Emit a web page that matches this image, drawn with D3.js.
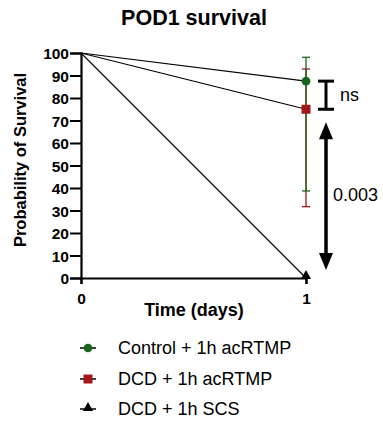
<!DOCTYPE html>
<html lang="en">
<head>
<meta charset="UTF-8">
<title>POD1 survival</title>
<style>
  body { margin: 0; background: #fff; }
  text { font-family: "Liberation Sans", Arial, sans-serif; }
</style>
</head>
<body>
<script src="https://cdn.jsdelivr.net/npm/d3@7/dist/d3.min.js"></script>
<script>
// data
var groups = ['Control + 1h acRTMP', 'DCD + 1h acRTMP', 'DCD + 1h SCS'];
var colors = ['#17661a', '#a01818', '#000000'];
var shapes = ['circle', 'square', 'triangle'];
var days = [0, 1];
var survival = [[100, 87.5], [100, 75], [100, 0]];
var errLow = [38.7, 31.7, null];
var errHigh = [98.1, 92.9, null];
var yTicks = [0, 10, 20, 30, 40, 50, 60, 70, 80, 90, 100];

var W = 383, H = 422;
var svg = d3.select('body').append('svg').attr('width', W).attr('height', H);

var x = d3.scaleLinear().domain([0, 1]).range([81, 306]);
var y = d3.scaleLinear().domain([0, 100]).range([278, 53]);

svg.append('text').attr('x', 194).attr('y', 25).attr('text-anchor', 'middle')
    .attr('font-size', 21.5).attr('font-weight', 'bold').text('POD1 survival');

// axes
var yAxis = svg.append('g').attr('transform', 'translate(81,0)')
    .call(d3.axisLeft(y).tickValues(yTicks).tickSize(11).tickPadding(1));
var xAxis = svg.append('g').attr('transform', 'translate(0,278)')
    .call(d3.axisBottom(x).tickValues(days).tickSize(6).tickPadding(9).tickFormat(d3.format('d')));
[yAxis, xAxis].forEach(function (a) {
    a.select('.domain').attr('stroke-width', 2.2).attr('stroke', '#000');
    a.selectAll('.tick line').attr('stroke-width', 2).attr('stroke', '#000');
    a.selectAll('.tick text').attr('font-size', 15.5).attr('font-weight', 'bold')
        .attr('fill', '#000').attr('font-family', '"Liberation Sans", Arial, sans-serif');
});
yAxis.selectAll('.tick text').attr('dy', '0.36em');

svg.append('text').attr('transform', 'translate(26,160) rotate(-90)')
    .attr('text-anchor', 'middle').attr('font-size', 16.5).attr('font-weight', 'bold')
    .text('Probability of Survival');
svg.append('text').attr('x', 194).attr('y', 316).attr('text-anchor', 'middle')
    .attr('font-size', 18).attr('font-weight', 'bold').text('Time (days)');

// error bars (red under green)
[1, 0].forEach(function (i) {
    if (errLow[i] == null) return;
    var g = svg.append('g').attr('stroke', colors[i]).attr('stroke-width', 1.3);
    g.append('line').attr('x1', x(1)).attr('x2', x(1)).attr('y1', y(errLow[i])).attr('y2', y(errHigh[i]));
    [errLow[i], errHigh[i]].forEach(function (v) {
        g.append('line').attr('x1', x(1) - 4).attr('x2', x(1) + 4).attr('y1', y(v)).attr('y2', y(v));
    });
});

// survival lines
var line = d3.line().x(function (d, i) { return x(days[i]); }).y(function (d) { return y(d); });
survival.forEach(function (s) {
    svg.append('path').attr('d', line(s)).attr('fill', 'none')
        .attr('stroke', '#000').attr('stroke-width', 1.1);
});

function marker(g, shape, color, cx, cy, size) {
    var sym = shape === 'circle' ? d3.symbolCircle : shape === 'square' ? d3.symbolSquare : d3.symbolTriangle;
    g.append('path').attr('d', d3.symbol().type(sym).size(size)())
        .attr('transform', 'translate(' + cx + ',' + cy + ')').attr('fill', color);
}
var sizes = [60, 81, 45];
survival.forEach(function (s, i) {
    marker(svg, shapes[i], colors[i], x(1), y(s[1]) - (shapes[i] === 'triangle' ? 2 : 0), sizes[i]);
});

// significance annotations
var bx = 326;
var br = svg.append('g').attr('stroke', '#000').attr('stroke-width', 3);
br.append('line').attr('x1', bx).attr('x2', bx).attr('y1', y(87.5)).attr('y2', y(75));
br.append('line').attr('x1', bx - 8).attr('x2', bx + 8).attr('y1', y(87.5)).attr('y2', y(87.5));
br.append('line').attr('x1', bx - 8).attr('x2', bx + 8).attr('y1', y(75)).attr('y2', y(75));
svg.append('text').attr('x', 340).attr('y', 101).attr('font-size', 18).text('ns');

var arrTop = y(75) + 13, arrBot = y(0) - 8;
svg.append('line').attr('x1', bx).attr('x2', bx).attr('y1', arrTop + 14).attr('y2', arrBot - 14)
    .attr('stroke', '#000').attr('stroke-width', 3.5);
svg.append('path').attr('d', 'M' + bx + ',' + arrTop + 'L' + (bx - 7) + ',' + (arrTop + 17) + 'L' + (bx + 7) + ',' + (arrTop + 17) + 'Z');
svg.append('path').attr('d', 'M' + bx + ',' + arrBot + 'L' + (bx - 7) + ',' + (arrBot - 17) + 'L' + (bx + 7) + ',' + (arrBot - 17) + 'Z');
svg.append('text').attr('x', 333).attr('y', 201).attr('font-size', 18).text('0.003');

// legend
var ly = [348, 379, 409];
groups.forEach(function (g, i) {
    var row = svg.append('g');
    row.append('line').attr('x1', 80).attr('x2', 96).attr('y1', ly[i]).attr('y2', ly[i])
        .attr('stroke', '#000').attr('stroke-width', 1.5);
    marker(row, shapes[i], colors[i], 88, ly[i] - (shapes[i] === 'triangle' ? 1 : 0), sizes[i]);
    row.append('text').attr('x', 118).attr('y', ly[i]).attr('dy', '0.35em')
        .attr('font-size', 18).text(g);
});
</script>
</body>
</html>
